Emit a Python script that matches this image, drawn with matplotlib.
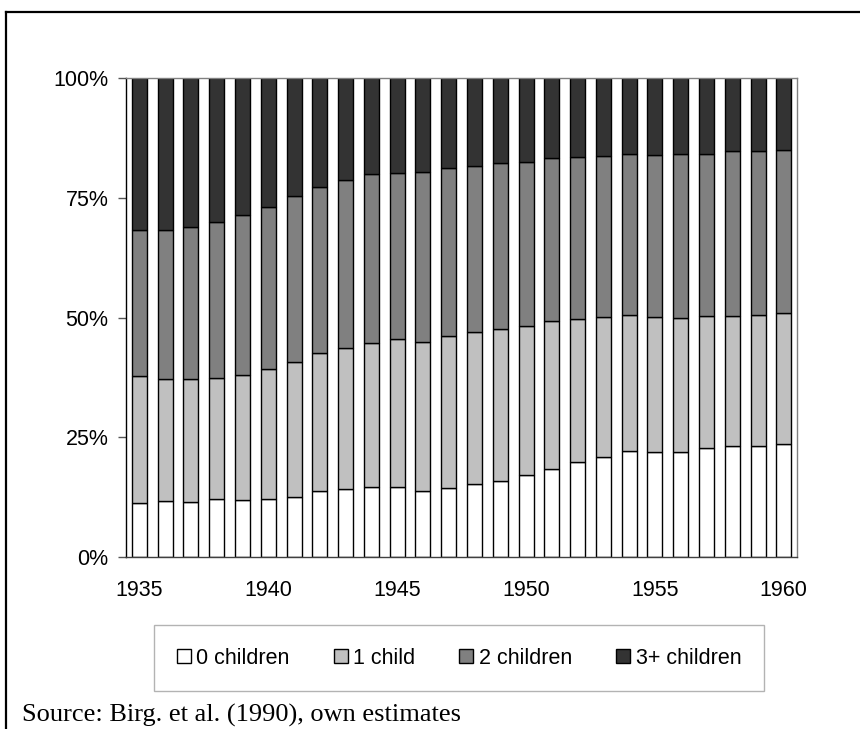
import matplotlib
matplotlib.use("Agg")
import matplotlib.pyplot as plt
from matplotlib.lines import Line2D
import numpy as np

years = list(range(1935, 1961))
zero_children = [11.2, 11.7, 11.5, 12.0, 11.8, 12.1, 12.5, 13.8, 14.2, 14.5, 14.6, 13.7, 14.4,
                 15.3, 15.9, 17.1, 18.3, 19.7, 20.8, 22.1, 21.9, 21.9, 22.7, 23.1, 23.1, 23.6]
one_child = [26.6, 25.4, 25.6, 25.4, 26.2, 27.1, 28.3, 28.7, 29.4, 30.2, 31.0, 31.2, 31.7,
             31.7, 31.6, 31.2, 31.0, 29.9, 29.3, 28.4, 28.2, 28.1, 27.6, 27.3, 27.4, 27.3]
two_children = [30.4, 31.2, 31.9, 32.6, 33.4, 34.0, 34.6, 34.7, 35.1, 35.3, 34.7, 35.5, 35.1,
                34.7, 34.7, 34.1, 34.1, 33.9, 33.6, 33.7, 33.9, 34.1, 33.9, 34.4, 34.4, 34.2]
three_plus = [31.8, 31.7, 31.0, 30.0, 28.6, 26.8, 24.6, 22.8, 21.3, 20.0, 19.7, 19.6, 18.8,
              18.3, 17.8, 17.6, 16.6, 16.5, 16.3, 15.8, 16.0, 15.9, 15.8, 15.2, 15.1, 14.9]
series_labels = ["0 children", "1 child", "2 children", "3+ children"]
colors = ["#FFFFFF", "#C0C0C0", "#808080", "#333333"]
y_ticks = [0, 25, 50, 75, 100]
y_tick_labels = ["0%", "25%", "50%", "75%", "100%"]
x_tick_years = [1935, 1940, 1945, 1950, 1955, 1960]
source_text = "Source: Birg. et al. (1990), own estimates"

plt.rcParams['font.family'] = ['Liberation Sans', 'DejaVu Sans']

fig = plt.figure(figsize=(8.6, 7.29), dpi=100)
ax = fig.add_axes([126.5/860, 1 - 556.7/729, (796.7 - 126.5)/860, (556.7 - 78.3)/729])

x = np.arange(len(years))
bottom = np.zeros(len(years))
for vals, lab, col in zip([zero_children, one_child, two_children, three_plus], series_labels, colors):
    v = np.array(vals)
    ax.bar(x, v, width=0.58, bottom=bottom, color=col, edgecolor="black",
           linewidth=1.0, label=lab, zorder=2)
    bottom += v

ax.set_xlim(-0.5, len(years) - 0.5)
ax.set_ylim(0, 100)
ax.set_yticks(y_ticks)
ax.set_yticklabels(y_tick_labels)
ax.set_xticks([years.index(y) for y in x_tick_years])
ax.set_xticklabels([str(y) for y in x_tick_years])
ax.tick_params(axis='y', length=6, width=1, color="#555555", pad=7, labelsize=15.5)
ax.tick_params(axis='x', length=0, pad=17, labelsize=15.5)

ax.spines['left'].set_color('black')
ax.spines['bottom'].set_color('#404040')
ax.spines['top'].set_color('#808080')
ax.spines['right'].set_color('#808080')
for s in ax.spines.values():
    s.set_linewidth(1.0)

leg = fig.legend(loc='center', bbox_to_anchor=(459/860, 1 - 658/729), ncol=4,
                 fontsize=15.5, frameon=True, fancybox=False, edgecolor='#A0A0A0',
                 handlelength=0.65, handleheight=0.65, handletextpad=0.25,
                 columnspacing=2.05, borderpad=1.05)
leg.get_frame().set_linewidth(1.0)

fig.text(22/860, 1 - 722/729, source_text, family=['Liberation Serif', 'DejaVu Serif'],
         fontsize=19, ha='left', va='baseline')

fig.add_artist(Line2D([6/860, 1.0], [1 - 12/729, 1 - 12/729], transform=fig.transFigure,
                      color='black', linewidth=1.6))
fig.add_artist(Line2D([6/860, 6/860], [1 - 12/729, 0.0], transform=fig.transFigure,
                      color='black', linewidth=1.6))

fig.savefig("out.png", dpi=100)
